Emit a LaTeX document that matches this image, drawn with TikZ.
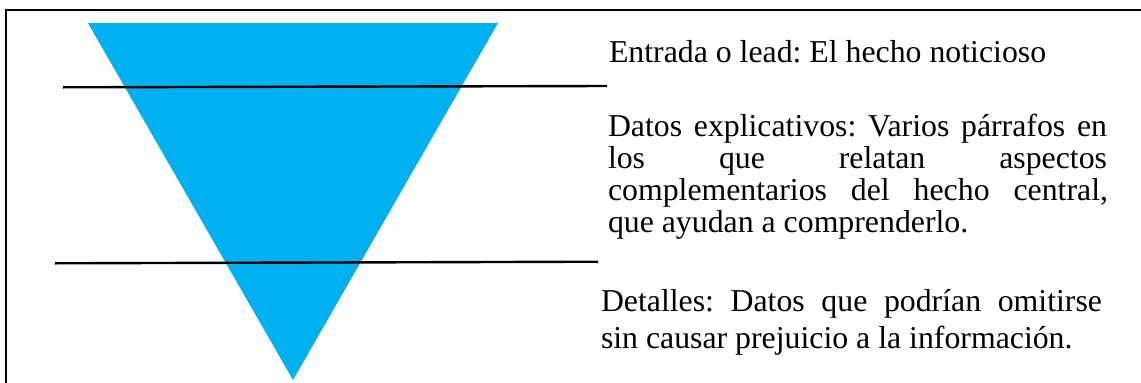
\documentclass[tikz,border=0pt]{standalone}
\usepackage{fontspec}
\setmainfont{Liberation Serif}
\frenchspacing
\definecolor{funnel}{RGB}{0,176,240}
\tikzset{
  txt/.style={anchor=base west, inner sep=0pt, outer sep=0pt, font=\fontsize{31.8pt}{36pt}\selectfont\frenchspacing},
  rule/.style={draw=black, line width=2.4pt},
  frame/.style={draw=black, line width=2.6pt}
}
\begin{document}
\begin{tikzpicture}[x=1pt,y=-1pt]
\useasboundingbox (0,0) rectangle (1141,383);
% frame (left and top edges)
\coordinate (fb) at (6,383);
\coordinate (fc) at (6,10);
\coordinate (fr) at (1141,10);
\draw[frame, line cap=rect] (fb) -- (fc) -- (fr);
% inverted triangle
\coordinate (tl) at (88,23);
\coordinate (tr) at (498,23);
\coordinate (tb) at (293,380);
\fill[funnel] (tl) -- (tr) -- (tb) -- cycle;
% dividing lines
\coordinate (a1) at (63,87.3);
\coordinate (a2) at (607,86);
\coordinate (b1) at (55,263.3);
\coordinate (b2) at (598,261.7);
\draw[rule] (a1) -- (a2);
\draw[rule] (b1) -- (b2);
% texts
\node[txt] (e1) at (609,62) {Entrada o lead: El hecho noticioso};
\node[txt] (d1) at (608,136) {\makebox[499pt][s]{Datos explicativos: Varios párrafos en}};
\node[txt] (d2) at (608,168) {\makebox[499pt][s]{los que relatan aspectos}};
\node[txt] (d3) at (608,200) {\makebox[500pt][s]{complementarios del hecho central,}};
\node[txt] (d4) at (608,232) {que ayudan a comprenderlo.};
\node[txt] (t1) at (601,311) {\makebox[501pt][s]{Detalles: Datos que podrían omitirse}};
\node[txt] (t2) at (601,348) {sin causar prejuicio a la información.};
\end{tikzpicture}
\end{document}
